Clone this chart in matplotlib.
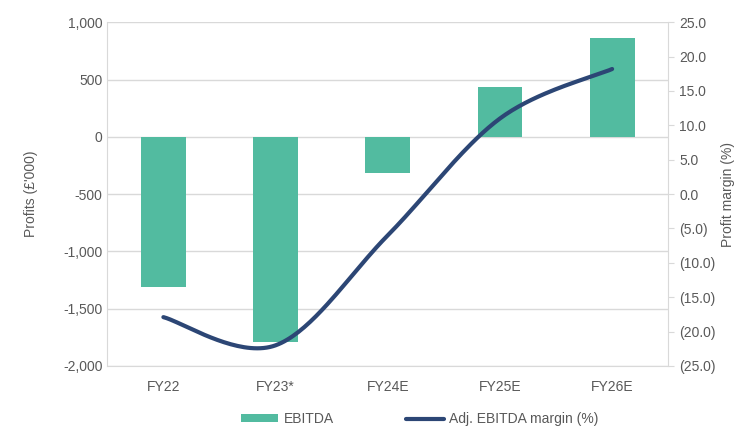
import matplotlib
matplotlib.use('Agg')
import matplotlib.pyplot as plt
import numpy as np
from matplotlib.ticker import FuncFormatter

years = ["FY22", "FY23*", "FY24E", "FY25E", "FY26E"]
ebitda = [-1310, -1790, -315, 435, 865]
margin = [-17.9, -22.0, -6.0, 11.0, 18.2]

teal = "#52BBA0"
navy = "#2C4675"
grey = "#595959"


def smooth(xs, ys, n=40):
    # Excel-style smoothed line (bezier through the points)
    xs = np.asarray(xs, float)
    ys = np.asarray(ys, float)
    px, py = [], []
    for i in range(len(xs) - 1):
        x0, y0 = xs[max(i - 1, 0)], ys[max(i - 1, 0)]
        x1, y1 = xs[i], ys[i]
        x2, y2 = xs[i + 1], ys[i + 1]
        x3, y3 = xs[min(i + 2, len(xs) - 1)], ys[min(i + 2, len(ys) - 1)]
        c1x, c1y = x1 + (x2 - x0) / 6, y1 + (y2 - y0) / 6
        c2x, c2y = x2 - (x3 - x1) / 6, y2 - (y3 - y1) / 6
        t = np.linspace(0, 1, n)
        px.extend((1-t)**3*x1 + 3*(1-t)**2*t*c1x + 3*(1-t)*t**2*c2x + t**3*x2)
        py.extend((1-t)**3*y1 + 3*(1-t)**2*t*c1y + 3*(1-t)*t**2*c2y + t**3*y2)
    return px, py


plt.rcParams['font.family'] = ['Liberation Sans', 'DejaVu Sans']
fig, ax = plt.subplots(figsize=(7.4, 4.28), dpi=100)
fig.subplots_adjust(left=0.145, right=0.903, top=0.948, bottom=0.145)

x = np.arange(len(years))
ax.bar(x, ebitda, width=0.4, color=teal, label="EBITDA", zorder=2)
ax.set_ylim(-2000, 1000)
ax.set_yticks(np.arange(-2000, 1001, 500))
ax.yaxis.set_major_formatter(FuncFormatter(lambda v, p: f"{v:,.0f}"))
ax.set_xlim(-0.5, len(years) - 0.5)
ax.set_xticks(x)
ax.set_xticklabels(years)
ax.grid(axis='y', color="#D9D9D9", linewidth=1, zorder=0)
ax.set_ylabel("Profits (£'000)", color=grey, fontsize=10, labelpad=18)

ax2 = ax.twinx()
sx, sy = smooth(x, margin)
ax2.plot(sx, sy, color=navy, linewidth=3, solid_capstyle='round',
         label="Adj. EBITDA margin (%)", zorder=3)
ax2.set_ylim(-25, 25)
ax2.set_yticks(np.arange(-25, 26, 5))
ax2.yaxis.set_major_formatter(FuncFormatter(
    lambda v, p: f"({abs(v):.1f})" if v < 0 else f"{v:.1f}"))
ax2.set_ylabel("Profit margin (%)", color=grey, fontsize=10, labelpad=4)

for a in (ax, ax2):
    for s in a.spines.values():
        s.set_visible(False)
    a.tick_params(colors=grey, labelsize=10, length=0)
ax.spines['left'].set_visible(True)
ax.spines['left'].set_color("#D9D9D9")
ax.spines['bottom'].set_visible(True)
ax.spines['bottom'].set_color("#D9D9D9")
ax2.spines['right'].set_visible(True)
ax2.spines['right'].set_color("#D9D9D9")
ax2.tick_params(axis='y', length=4, color="#D9D9D9", pad=4)
ax.tick_params(axis='x', pad=10)

h1, l1 = ax.get_legend_handles_labels()
h2, l2 = ax2.get_legend_handles_labels()
leg = fig.legend(h1 + h2, l1 + l2, loc='lower center', ncol=2, frameon=False,
                 bbox_to_anchor=(0.567, -0.025), fontsize=10, handlelength=2.7,
                 columnspacing=5.2, handletextpad=0.4, handleheight=0.5)
for t in leg.get_texts():
    t.set_color(grey)

fig.savefig("out.png", dpi=100)
